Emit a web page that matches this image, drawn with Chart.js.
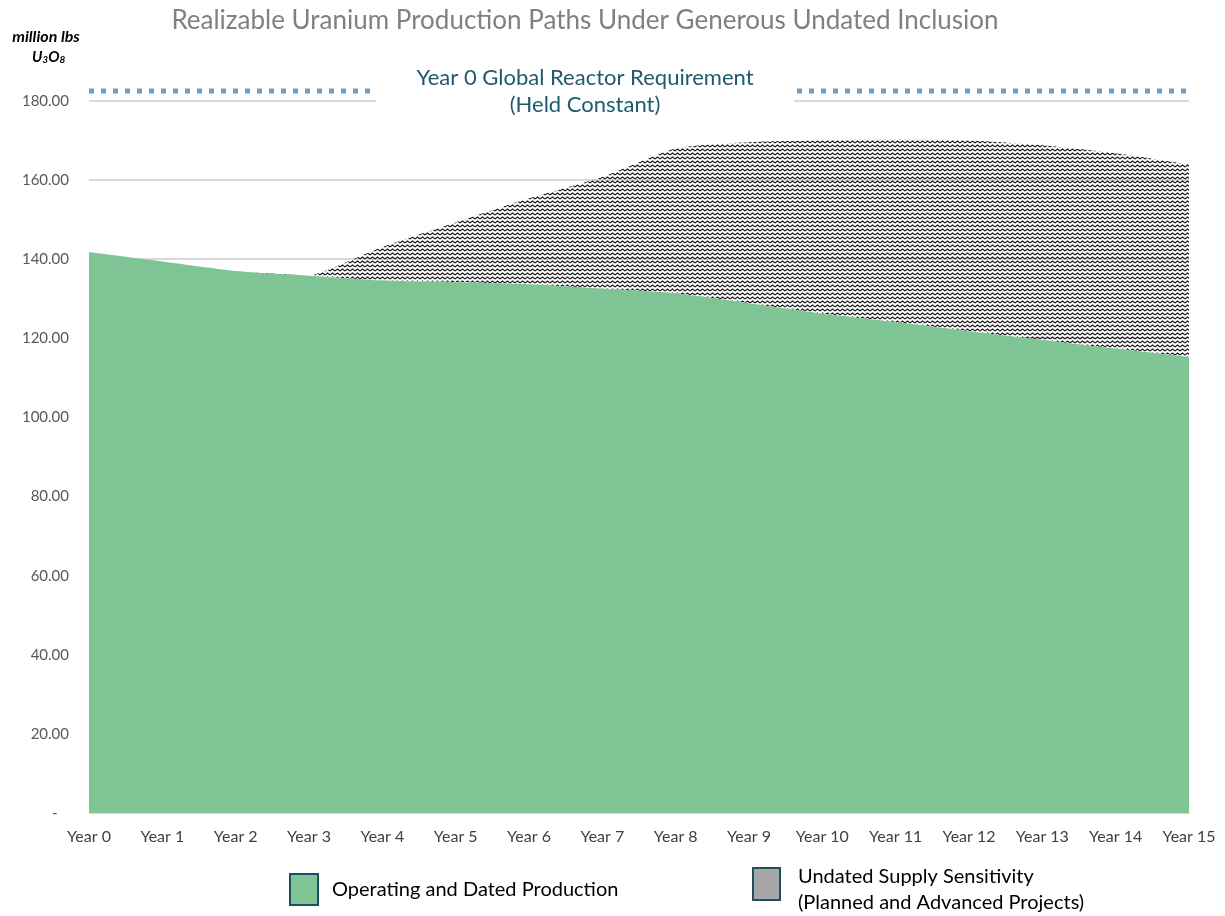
<!DOCTYPE html>
<html lang="en">
<head>
  <meta charset="UTF-8" />
  <title>Realizable Uranium Production Paths</title>
  <script src="https://cdn.jsdelivr.net/npm/chart.js"></script>
  <style>
    html, body { margin: 0; padding: 0; background: #fff; }
    #wrap { width: 1225px; height: 916px; position: relative; }
  </style>
</head>
<body>
  <div id="wrap"><canvas id="uChart" width="1225" height="916"></canvas></div>
  <script>
    const years = ['Year 0', 'Year 1', 'Year 2', 'Year 3', 'Year 4', 'Year 5', 'Year 6', 'Year 7',
                   'Year 8', 'Year 9', 'Year 10', 'Year 11', 'Year 12', 'Year 13', 'Year 14', 'Year 15'];
    // million lbs U3O8
    const operatingDated = [141.8, 139.4, 137.0, 135.8, 134.6, 134.2, 133.7, 132.6,
                            131.4, 128.9, 126.3, 124.1, 121.8, 119.6, 117.4, 115.3];
    const undatedSensitivity = [0, 0, 0, 0, 8.5, 15.1, 21.7, 28.2,
                                36.6, 40.7, 43.8, 46.2, 48.2, 49.2, 49.4, 48.7];
    const reactorRequirement = [182.5, 182.5, 182.5, 182.5, 182.5, 182.5, 182.5, 182.5,
                                182.5, 182.5, 182.5, 182.5, 182.5, 182.5, 182.5, 182.5];

    const FONT = 'Lato, "Open Sans", sans-serif';
    const GREEN = 'rgb(126,196,148)';
    const TEAL = '#1d5a6e';

    // zigzag hatch like the Excel "wave" pattern
    function wavePattern() {
      const c = document.createElement('canvas');
      c.width = 5; c.height = 4;
      const g = c.getContext('2d');
      g.strokeStyle = '#1a1a1a';
      g.lineWidth = 1.1;
      g.beginPath();
      g.moveTo(0, 3); g.lineTo(2.5, 1); g.lineTo(5, 3);
      g.stroke();
      return g.createPattern(c, 'repeat');
    }

    const decorations = {
      id: 'decorations',
      afterDatasetsDraw(chart) {
        const ctx = chart.ctx;
        ctx.save();
        // title
        ctx.fillStyle = '#808080';
        ctx.font = '26px ' + FONT;
        ctx.textAlign = 'center';
        ctx.textBaseline = 'middle';
        ctx.fillText('Realizable Uranium Production Paths Under Generous Undated Inclusion', 585, 21);

        // axis unit label
        ctx.fillStyle = '#000';
        ctx.font = 'italic bold 16px ' + FONT;
        ctx.fillText('million lbs', 46, 37);
        ctx.textAlign = 'left';
        let x = 32;
        const parts = [['U', 15, 0], ['3', 10, 3], ['O', 15, 0], ['8', 10, 3]];
        parts.forEach(([t, s, dy]) => {
          ctx.font = 'italic bold ' + s + 'px ' + FONT;
          ctx.fillText(t, x, 57 + dy);
          x += ctx.measureText(t).width;
        });

        // requirement label over the dotted line
        ctx.fillStyle = '#fff';
        ctx.fillRect(376, 62, 418, 58);
        ctx.fillStyle = TEAL;
        ctx.font = '22px ' + FONT;
        ctx.textAlign = 'center';
        ctx.fillText('Year 0 Global Reactor Requirement', 585, 78);
        ctx.fillText('(Held Constant)', 585, 105);

        // legend
        ctx.lineWidth = 2;
        ctx.strokeStyle = '#1f4e5f';
        ctx.fillStyle = GREEN;
        ctx.fillRect(290, 874, 28, 31);
        ctx.strokeRect(290, 874, 28, 31);
        ctx.fillStyle = '#a6a6a6';
        ctx.fillRect(753, 868, 27, 32);
        ctx.strokeRect(753, 868, 27, 32);
        ctx.fillStyle = '#000';
        ctx.font = '20px ' + FONT;
        ctx.textAlign = 'left';
        ctx.fillText('Operating and Dated Production', 332, 890);
        ctx.fillText('Undated Supply Sensitivity', 798, 877);
        ctx.fillText('(Planned and Advanced Projects)', 798, 903);
        ctx.restore();
      }
    };

    new Chart(document.getElementById('uChart'), {
      type: 'line',
      data: {
        labels: years,
        datasets: [
          {
            label: 'Operating and Dated Production',
            data: operatingDated,
            stack: 'supply',
            backgroundColor: GREEN,
            borderWidth: 0,
            pointRadius: 0,
            tension: 0.2,
            fill: 'origin'
          },
          {
            label: 'Undated Supply Sensitivity (Planned and Advanced Projects)',
            data: undatedSensitivity,
            stack: 'supply',
            backgroundColor: wavePattern(),
            borderWidth: 0,
            pointRadius: 0,
            tension: 0.2,
            fill: '-1'
          },
          {
            label: 'Year 0 Global Reactor Requirement',
            data: reactorRequirement,
            stack: 'req',
            borderColor: '#6a9fc4',
            borderWidth: 5,
            borderDash: [5, 7],
            borderCapStyle: 'butt',
            pointRadius: 0,
            fill: false,
            clip: false
          }
        ]
      },
      options: {
        responsive: false,
        animation: false,
        layout: { padding: { top: 101, right: 36, left: 0, bottom: 0 } },
        plugins: {
          legend: { display: false },
          tooltip: { enabled: false }
        },
        scales: {
          x: {
            offset: false,
            grid: { display: false, drawTicks: false },
            border: { display: true, color: '#d9d9d9', width: 1 },
            ticks: { color: '#404040', font: { family: FONT, size: 16 }, padding: 14, maxRotation: 0, autoSkip: false },
            afterFit(s) { s.height = 103; s.paddingLeft = 0; s.paddingRight = 0; }
          },
          y: {
            stacked: true,
            min: 0,
            max: 180,
            grid: { color: '#d9d9d9', lineWidth: 2, drawTicks: false },
            border: { display: false },
            ticks: {
              stepSize: 20,
              padding: 20,
              color: '#595959',
              font: { family: FONT, size: 15 },
              callback: v => v === 0 ? '-   ' : v.toFixed(2)
            },
            afterFit(s) { s.width = 89; }
          }
        }
      },
      plugins: [decorations]
    });
  </script>
</body>
</html>
